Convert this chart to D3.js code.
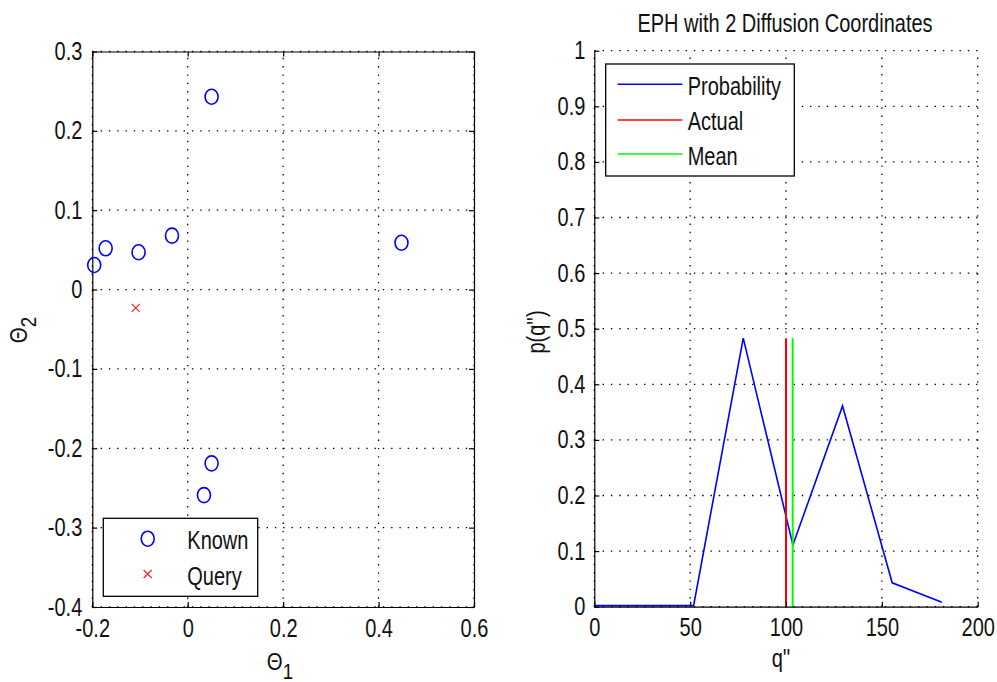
<!DOCTYPE html>
<html>
<head>
<meta charset="utf-8">
<script src="https://cdn.jsdelivr.net/npm/d3@7"></script>
<style>
  html, body { margin: 0; padding: 0; background: #fff; }
  svg { display: block; }
  text { font-family: "Liberation Sans", Arial, Helvetica, sans-serif; fill: #111; }
</style>
</head>
<body>
<svg id="chart" width="997" height="682"></svg>
<script>
// ---------- data ----------
const knownX = [-0.196, -0.172, -0.103, -0.033, 0.050, 0.448, 0.050, 0.034];
const knownY = [0.031, 0.052, 0.047, 0.068, 0.243, 0.059, -0.219, -0.259];
const queryX = [-0.109];
const queryY = [-0.023];

const qValues = [0, 25.9, 51.8, 77.7, 103.6, 129.5, 155.4, 181.3];
const pValues = [0.002, 0.002, 0.002, 0.483, 0.111, 0.361, 0.043, 0.008];
const actualQ = 100;
const meanQ = 103.5;

const leftXTicks = [-0.2, 0, 0.2, 0.4, 0.6];
const leftYTicks = [-0.4, -0.3, -0.2, -0.1, 0, 0.1, 0.2, 0.3];
const rightXTicks = [0, 50, 100, 150, 200];
const rightYTicks = [0, 0.1, 0.2, 0.3, 0.4, 0.5, 0.6, 0.7, 0.8, 0.9, 1];

const titleText = "EPH with 2 Diffusion Coordinates";
const leftLegend = ["Known", "Query"];
const rightLegend = ["Probability", "Actual", "Mean"];

// ---------- setup ----------
const svg = d3.select("#chart");
svg.append("rect").attr("width", 997).attr("height", 682).attr("fill", "#fff");
const FS = 25, SX = 0.8;
const fmt = d => String(+(+d).toFixed(1));

function label(g, x, y, str, anchor, rotate) {
  const t = g.append("text")
    .attr("transform", `translate(${x},${y})` + (rotate ? ` rotate(${rotate})` : "") + ` scale(${SX},1)`)
    .attr("font-size", FS)
    .attr("text-anchor", anchor || "start");
  t.text(str);
  return t;
}

function styleAxis(sel) {
  sel.select(".domain").attr("stroke", "#000").attr("stroke-width", 1.2);
  sel.selectAll(".tick line").attr("stroke", "#000").attr("stroke-width", 1.2);
  sel.selectAll(".tick text")
    .attr("font-size", FS)
    .attr("font-family", "Liberation Sans, Arial, sans-serif")
    .attr("fill", "#111");
}
function squeeze(sel) {
  sel.selectAll(".tick text").each(function() {
    const t = d3.select(this);
    const x = +t.attr("x") || 0;
    t.attr("x", x / SX).attr("transform", `scale(${SX},1)`);
  });
}
function grid(g, x, y, xt, yt) {
  const [x0, x1] = x.range(), [y0, y1] = y.range();
  g.selectAll(null).data(xt).enter().append("line")
    .attr("x1", d => x(d)).attr("x2", d => x(d)).attr("y1", y0).attr("y2", y1)
    .attr("stroke", "#000").attr("stroke-width", 1.3).attr("stroke-dasharray", "1.4,6.9");
  g.selectAll(null).data(yt).enter().append("line")
    .attr("y1", d => y(d)).attr("y2", d => y(d)).attr("x1", x0).attr("x2", x1)
    .attr("stroke", "#000").attr("stroke-width", 1.3).attr("stroke-dasharray", "1.4,6.9");
}

// ---------- left plot ----------
const xL = d3.scaleLinear().domain([-0.2, 0.6]).range([92.3, 474]);
const yL = d3.scaleLinear().domain([-0.4, 0.3]).range([607, 51.5]);
const gL = svg.append("g");
grid(gL.append("g"), xL, yL, leftXTicks, leftYTicks);

const axBL = gL.append("g").attr("transform", `translate(0,${yL.range()[0]})`)
  .call(d3.axisBottom(xL).tickValues(leftXTicks).tickFormat(fmt).tickSizeInner(-5).tickSizeOuter(0).tickPadding(12));
const axLL = gL.append("g").attr("transform", `translate(${xL.range()[0]},0)`)
  .call(d3.axisLeft(yL).tickValues(leftYTicks).tickFormat(fmt).tickSizeInner(-5).tickSizeOuter(0).tickPadding(10));
const axTL = gL.append("g").attr("transform", `translate(0,${yL.range()[1]})`)
  .call(d3.axisTop(xL).tickValues(leftXTicks).tickFormat("").tickSizeInner(-5).tickSizeOuter(0));
const axRL = gL.append("g").attr("transform", `translate(${xL.range()[1]},0)`)
  .call(d3.axisRight(yL).tickValues(leftYTicks).tickFormat("").tickSizeInner(-5).tickSizeOuter(0));
[axBL, axLL, axTL, axRL].forEach(styleAxis);
squeeze(axLL); squeeze(axBL);

// known points
gL.selectAll(".known").data(knownX.map((x, i) => [x, knownY[i]])).enter().append("ellipse")
  .attr("cx", d => xL(d[0])).attr("cy", d => yL(d[1]))
  .attr("rx", 6.5).attr("ry", 7.5)
  .attr("fill", "none").attr("stroke", "#0000ff").attr("stroke-width", 1.6);
// query points
const cross = (g, cx, cy, s, color) => {
  g.append("path")
    .attr("d", `M${cx - s},${cy - s}L${cx + s},${cy + s}M${cx - s},${cy + s}L${cx + s},${cy - s}`)
    .attr("stroke", color).attr("stroke-width", 1.2).attr("fill", "none");
};
queryX.forEach((qx, i) => cross(gL, xL(qx), yL(queryY[i]), 4, "#ff2020"));

// left legend
const lg = gL.append("g");
lg.append("rect").attr("x", 103.3).attr("y", 518.3).attr("width", 154.4).attr("height", 78)
  .attr("fill", "#fff").attr("stroke", "#000").attr("stroke-width", 1.3);
lg.append("ellipse").attr("cx", 147.7).attr("cy", 538.7).attr("rx", 6.5).attr("ry", 7.5)
  .attr("fill", "none").attr("stroke", "#0000ff").attr("stroke-width", 1.6);
cross(lg, 147.7, 574, 4, "#ff2020");
label(lg, 187.3, 549, leftLegend[0]);
label(lg, 187.3, 585, leftLegend[1]);

// left axis labels
const xlabL = gL.append("text").attr("transform", `translate(280,670) scale(0.85,1)`)
  .attr("text-anchor", "middle").attr("font-size", 24);
xlabL.append("tspan").text("Θ");
xlabL.append("tspan").attr("font-size", 22).attr("dy", 9).text("1");
const ylabL = gL.append("text").attr("transform", `translate(27,330) rotate(-90) scale(0.85,1)`)
  .attr("text-anchor", "middle").attr("font-size", 24);
ylabL.append("tspan").text("Θ");
ylabL.append("tspan").attr("font-size", 22).attr("dy", 9).text("2");

// ---------- right plot ----------
const xR = d3.scaleLinear().domain([0, 200]).range([594.3, 977.7]);
const yR = d3.scaleLinear().domain([0, 1]).range([606.7, 50.7]);
const gR = svg.append("g");
grid(gR.append("g"), xR, yR, rightXTicks, rightYTicks);

// probability line
const line = d3.line().x(d => xR(d[0])).y(d => yR(d[1]));
gR.append("path").datum(qValues.map((q, i) => [q, pValues[i]]))
  .attr("d", line).attr("fill", "none").attr("stroke", "#0000ff").attr("stroke-width", 1.6)
  .attr("stroke-linejoin", "miter");
const pMax = d3.max(pValues);
gR.append("line").attr("x1", xR(actualQ)).attr("x2", xR(actualQ)).attr("y1", yR(0)).attr("y2", yR(pMax))
  .attr("stroke", "#ff0000").attr("stroke-width", 2);
gR.append("line").attr("x1", xR(meanQ)).attr("x2", xR(meanQ)).attr("y1", yR(0)).attr("y2", yR(pMax))
  .attr("stroke", "#00ff00").attr("stroke-width", 2);

const axBR = gR.append("g").attr("transform", `translate(0,${yR.range()[0]})`)
  .call(d3.axisBottom(xR).tickValues(rightXTicks).tickFormat(fmt).tickSizeInner(-5).tickSizeOuter(0).tickPadding(12));
const axLR = gR.append("g").attr("transform", `translate(${xR.range()[0]},0)`)
  .call(d3.axisLeft(yR).tickValues(rightYTicks).tickFormat(fmt).tickSizeInner(-5).tickSizeOuter(0).tickPadding(9));
[axBR, axLR].forEach(styleAxis);
squeeze(axLR); squeeze(axBR);

// right legend
const rg = gR.append("g");
rg.append("rect").attr("x", 605.7).attr("y", 64).attr("width", 188.6).attr("height", 112)
  .attr("fill", "#fff").attr("stroke", "#000").attr("stroke-width", 1.3);
const legColors = ["#0000ff", "#ff0000", "#00ff00"];
const legY = [84.3, 120, 154];
const legBase = [95, 130, 164.5];
rightLegend.forEach((name, i) => {
  rg.append("line").attr("x1", 617.7).attr("x2", 682.3).attr("y1", legY[i]).attr("y2", legY[i])
    .attr("stroke", legColors[i]).attr("stroke-width", 1.6);
  label(rg, 687.7, legBase[i], name);
});

// title and labels
label(gR, 785, 31.5, titleText, "middle");
label(gR, 781, 667, "q''", "middle");
label(gR, 545, 332, "p(q'')", "middle", -90);
</script>
</body>
</html>
